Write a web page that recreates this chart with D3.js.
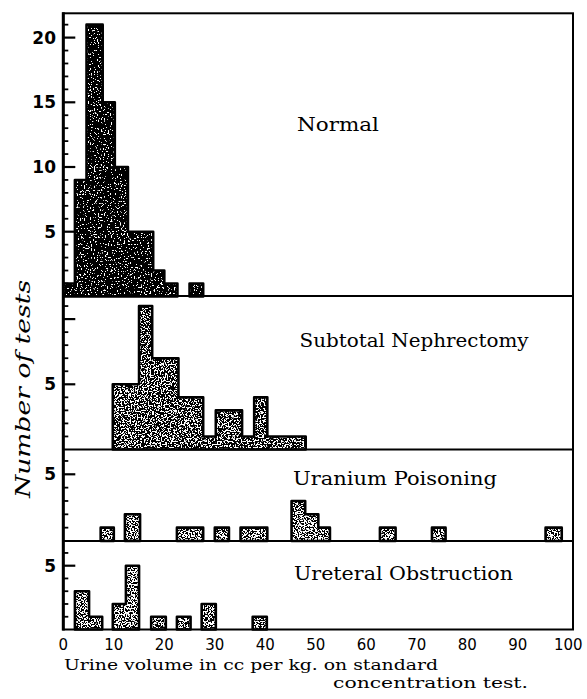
<!DOCTYPE html>
<html>
<head>
<meta charset="utf-8">
<script src="https://cdn.jsdelivr.net/npm/d3@7/dist/d3.min.js"></script>
<style>
html,body{margin:0;padding:0;background:#fff;}
svg{display:block;}
</style>
</head>
<body>
<svg id="chart" width="587" height="699"></svg>
<script>
// ---------------- DATA ----------------
const xTickValues = [0, 10, 20, 30, 40, 50, 60, 70, 80, 90, 100];
const panelNames = ["Normal", "Subtotal Nephrectomy", "Uranium Poisoning", "Ureteral Obstruction"];
// bins: [from, to, number of tests]
const normalBins = [[0,2.3,1],[2.3,4.6,9],[4.6,7.8,21],[7.8,10.2,15],[10.2,12.8,10],[12.8,17.8,5],[17.8,20.0,2],[20.0,22.6,1],[25.0,27.7,1]];
const subtotalBins = [[9.8,15.0,5],[15.0,17.6,11],[17.6,22.8,7],[22.8,27.7,4],[27.7,30.2,1],[30.2,35.4,3],[35.4,37.8,1],[37.8,40.4,4],[40.4,48.0,1]];
const uraniumBins = [[7.4,10.0,1],[12.2,15.2,2],[22.5,27.7,1],[30.0,32.8,1],[35.1,40.4,1],[45.2,47.9,3],[47.9,50.5,2],[50.5,52.8,1],[62.7,65.8,1],[73.0,75.7,1],[95.5,98.7,1]];
const ureteralBins = [[2.3,5.1,3],[5.1,7.7,1],[9.8,12.4,2],[12.4,15.0,5],[17.4,20.3,1],[22.5,25.2,1],[27.4,30.2,2],[37.5,40.3,1]];
const panelBins = [normalBins, subtotalBins, uraniumBins, ureteralBins];
const panelTickMax = [21, 11, 6, 6];
const panelMajorTicks = [[5,10,15,20],[5,10],[5],[5]];
const panelTickLabels = [[5,10,15,20],[5],[5],[5]];
const xTitleLines = ["Urine volume in cc per kg. on standard", "concentration test."];
const yTitle = "Number of tests";

// ---------------- LAYOUT ----------------
const svg = d3.select("#chart");
const frameLeft = 63.3, frameRight = 573, frameTop = 13.3, frameBottom = 629.5;
const x = d3.scaleLinear().domain([0, 100]).range([63.3, 568.3]);
const panelLayout = [
  {top: 13.3, bottom: 296,   zero: 296.4, five: 231.7, tx: 297,   ty: 131,   tl: 82,  tex: "stipDark"},
  {top: 296,  bottom: 449.5, zero: 449.5, five: 384.3, tx: 299.5, ty: 346.5, tl: 229, tex: "stipMid"},
  {top: 449.5,bottom: 541,   zero: 541,   five: 474.3, tx: 293,   ty: 485,   tl: 204, tex: "stipLight"},
  {top: 541,  bottom: 629.5, zero: 629.5, five: 565.7, tx: 294,   ty: 579.5, tl: 219, tex: "stipLight"}
];

// stipple textures
const defs = svg.append("defs");
function stipple(id, thr, freq, seed) {
  const f = defs.append("filter").attr("id", id)
    .attr("filterUnits", "userSpaceOnUse").attr("x", 0).attr("y", 0).attr("width", 587).attr("height", 699);
  f.append("feTurbulence").attr("type", "fractalNoise").attr("baseFrequency", freq)
    .attr("numOctaves", 2).attr("seed", seed).attr("result", "n");
  f.append("feColorMatrix").attr("in", "n").attr("type", "matrix")
    .attr("values", `0 0 0 0 0  0 0 0 0 0  0 0 0 0 0  -30 0 0 0 ${30 * thr}`).attr("result", "dots");
  f.append("feFlood").attr("flood-color", "#ffffff").attr("result", "w");
  f.append("feComposite").attr("in", "dots").attr("in2", "w").attr("operator", "over").attr("result", "tex");
  f.append("feComposite").attr("in", "tex").attr("in2", "SourceAlpha").attr("operator", "in");
}
stipple("stipDark", 0.66, 0.7, 3);
stipple("stipMid", 0.56, 0.7, 5);
stipple("stipLight", 0.52, 0.7, 7);

function groups(bins) {
  const out = [];
  bins.forEach(b => {
    const last = out[out.length - 1];
    if (last && Math.abs(last[last.length - 1][1] - b[0]) < 0.01) last.push(b);
    else out.push([b]);
  });
  return out;
}

const line = d3.line();
panelBins.forEach((bins, i) => {
  const L = panelLayout[i];
  const y = d3.scaleLinear().domain([0, 5]).range([L.zero, L.five]);
  const g = svg.append("g");
  groups(bins).forEach(grp => {
    const pts = [[x(grp[0][0]), y(0)]];
    grp.forEach(b => { pts.push([x(b[0]), y(b[2])]); pts.push([x(b[1]), y(b[2])]); });
    pts.push([x(grp[grp.length - 1][1]), y(0)]);
    const d = line(pts) + "Z";
    g.append("path").attr("d", d).attr("fill", "#000").attr("filter", `url(#${L.tex})`);
    g.append("path").attr("d", d).attr("fill", "none").attr("stroke", "#000")
      .attr("stroke-width", 2.6).attr("stroke-linejoin", "round");
  });

  // y ticks
  const ticks = d3.range(1, panelTickMax[i] + 1);
  g.selectAll("line.tk").data(ticks).join("line")
    .attr("x1", frameLeft).attr("x2", v => frameLeft + (panelMajorTicks[i].includes(v) ? 12 : 5))
    .attr("y1", v => y(v)).attr("y2", v => y(v))
    .attr("stroke", "#000").attr("stroke-width", v => panelMajorTicks[i].includes(v) ? 2.2 : 1.8);
  g.selectAll("text.tl").data(panelTickLabels[i]).join("text")
    .attr("x", 56).attr("y", v => y(v) + 6)
    .attr("text-anchor", "end")
    .attr("font-family", "DejaVu Sans").attr("font-weight", "bold").attr("font-size", 17)
    .text(v => v);

  // panel title
  svg.append("text").attr("x", L.tx).attr("y", L.ty)
    .attr("font-family", "DejaVu Serif").attr("font-size", 19)
    .attr("textLength", L.tl).attr("lengthAdjust", "spacingAndGlyphs")
    .text(panelNames[i]);
});

// frame
svg.append("rect").attr("x", frameLeft).attr("y", frameTop)
  .attr("width", frameRight - frameLeft).attr("height", frameBottom - frameTop)
  .attr("fill", "none").attr("stroke", "#000").attr("stroke-width", 2);
panelLayout.slice(1).forEach(L => {
  svg.append("line").attr("x1", frameLeft).attr("x2", frameRight).attr("y1", L.top).attr("y2", L.top)
    .attr("stroke", "#000").attr("stroke-width", 2.2);
});
svg.append("line").attr("x1", frameLeft).attr("x2", frameLeft).attr("y1", frameTop - 1).attr("y2", frameBottom + 1)
  .attr("stroke", "#000").attr("stroke-width", 3);

// x tick labels
svg.selectAll("text.xt").data(xTickValues).join("text")
  .attr("x", d => x(d)).attr("y", 650)
  .attr("text-anchor", "middle")
  .attr("font-family", "DejaVu Sans").attr("font-size", 15)
  .text(d => d);

// axis titles
svg.append("text").attr("x", 64).attr("y", 669.5)
  .attr("font-family", "DejaVu Serif").attr("font-size", 15)
  .attr("textLength", 374).attr("lengthAdjust", "spacingAndGlyphs")
  .text(xTitleLines[0]);
svg.append("text").attr("x", 333).attr("y", 688)
  .attr("font-family", "DejaVu Serif").attr("font-size", 15)
  .attr("textLength", 195).attr("lengthAdjust", "spacingAndGlyphs")
  .text(xTitleLines[1]);
svg.append("text").attr("transform", "translate(30,389) rotate(-90)")
  .attr("text-anchor", "middle")
  .attr("font-family", "DejaVu Serif").attr("font-style", "italic").attr("font-size", 20)
  .attr("textLength", 218).attr("lengthAdjust", "spacingAndGlyphs")
  .text(yTitle);
</script>
</body>
</html>
